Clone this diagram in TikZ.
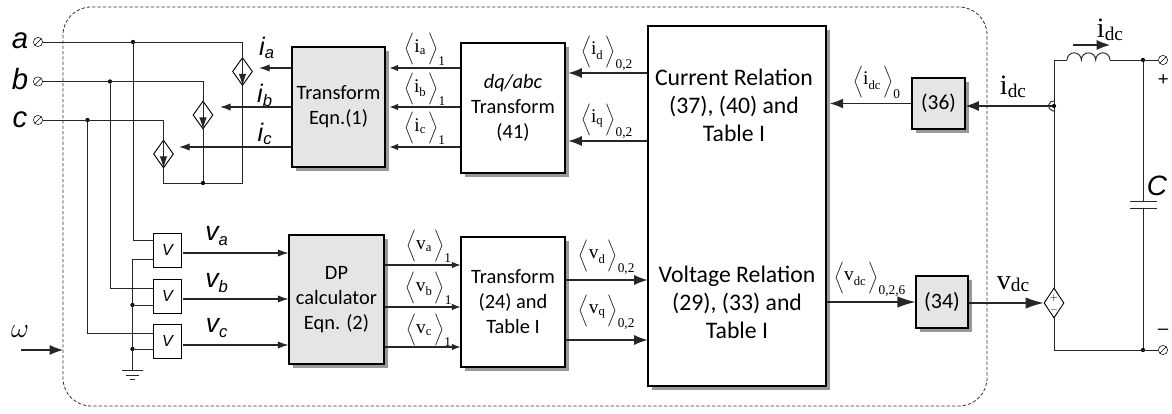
\documentclass[tikz,border=0pt]{standalone}
\usepackage{fontspec}
\setmainfont{Carlito}
\newfontfamily\serf{Liberation Serif}
\newfontfamily\arl{Liberation Sans}
\usetikzlibrary{arrows.meta,shapes.geometric,shapes.symbols,shadows}

\newcommand{\avgsig}[3]{$\bigg\langle\mbox{\serf\fontsize{14.5}{14.5}\selectfont #1}_{\mbox{\serf\fontsize{9.5}{10}\selectfont #2}}\,\bigg\rangle_{\mbox{\serf\fontsize{10}{10}\selectfont #3}}$}
\newcommand{\phsig}[3]{{\arl\itshape\fontsize{#3}{#3}\selectfont #1$_{\mbox{\arl\itshape\fontsize{12.5}{12.5}\selectfont #2}}$}}
\newcommand{\dcsig}[2]{{\serf\fontsize{21}{21}\selectfont #1\fontsize{14.5}{14.5}\selectfont\raisebox{-2pt}{#2}}}

\tikzset{
  wire/.style={black!85,line width=0.7pt},
  sig/.style={black!85,line width=0.8pt,-{Latex[length=6.5pt,width=5pt]}},
  sigmid/.style={black!85,line width=0.8pt,-{Latex[length=8pt,width=5.5pt]}},
  sigbig/.style={black!85,line width=0.8pt,-{Latex[length=10pt,width=7.5pt]}},
  bigsig/.style={black!85,line width=0.8pt,-{Latex[length=13.5pt,width=8.5pt]}},
  blockwhite/.style={draw,line width=0.8pt,fill=white,align=center,inner sep=0pt,font=\fontsize{15.3}{18.75}\selectfont,
    drop shadow={shadow xshift=3pt,shadow yshift=-3pt,fill=black!40,opacity=1}},
  blockgray/.style={blockwhite,fill=black!10},
  vbox/.style={draw,line width=0.7pt,fill=white,inner sep=0pt,minimum width=21pt,minimum height=25.5pt,font=\arl\itshape\fontsize{12}{12}\selectfont},
  srcdiamond/.style={diamond,draw,line width=0.7pt,fill=white,inner sep=0pt,aspect=0.7,minimum width=15pt,minimum height=21pt},
  junction/.style={circle,fill=black,inner sep=0pt,minimum size=3.2pt},
  terminal/.style={forbidden sign,draw,line width=0.4pt,inner sep=0pt,minimum size=7pt},
  plain/.style={inner sep=0pt}
}

\begin{document}
\begin{tikzpicture}[x=0.75pt,y=-0.75pt]
\useasboundingbox (0,0) rectangle (1172,414);

\draw[black!80,line width=0.6pt,dash pattern=on 2.5pt off 1.5pt,rounded corners=21pt] (63,7) rectangle (987,406);

% blocks
\node[blockgray,minimum width=69.75pt,minimum height=90pt] (tfone) at (338.5,107) {Transform\\Eqn.(1)};
\node[blockwhite,minimum width=78pt,minimum height=97.5pt] (dqabc) at (513,108) {\textit{dq/abc}\\Transform\\(41)};
\node[blockwhite,minimum width=133.5pt,minimum height=270pt] (relation) at (737,206) {};
\node[plain,align=center,font=\fontsize{17.8}{21}\selectfont] (curel) at (734,105) {Current Relation\\(37), (40) and\\Table I};
\node[plain,align=center,font=\fontsize{17.8}{21}\selectfont] (volrel) at (737,302) {Voltage Relation\\(29), (33) and\\Table I};
\node[blockgray,minimum width=39.75pt,minimum height=38.25pt,font=\fontsize{16}{16}\selectfont] (eqthirtysix) at (938.5,103.5) {(36)};
\node[blockgray,minimum width=39pt,minimum height=39pt,font=\fontsize{16.5}{16.5}\selectfont] (eqthirtyfour) at (942,302) {(34)};
\node[blockgray,minimum width=71.25pt,minimum height=96.75pt] (dpcalc) at (336.5,299.5) {DP\\calculator\\Eqn. (2)};
\node[blockwhite,minimum width=78pt,minimum height=97.5pt] (tftwo) at (513,302) {Transform\\(24) and\\Table I};

% phase terminals
\node[terminal] (terma) at (38,42) {};
\node[terminal] (termb) at (38,81.5) {};
\node[terminal] (termc) at (38,120) {};
\node[plain,font=\arl\itshape\fontsize{22}{22}\selectfont] (laba) at (20,40.5) {a};
\node[plain,font=\arl\itshape\fontsize{22}{22}\selectfont] (labb) at (20,79) {b};
\node[plain,font=\arl\itshape\fontsize{22}{22}\selectfont] (labc) at (20,120) {c};

% current sources
\node[srcdiamond] (srca) at (242.5,71.5) {};
\node[srcdiamond] (srcb) at (203,115) {};
\node[srcdiamond] (srcc) at (163.5,154) {};
\node[junction] (joina) at (133,42) {};
\node[junction] (joinb) at (110,81.5) {};
\node[junction] (joinc) at (87.5,120) {};
\node[junction] (joinsrc) at (203,183) {};
\draw[wire] (terma) -| (srca.north);
\draw[wire] (termb) -| (srcb.north);
\draw[wire] (termc) -| (srcc.north);
\draw[wire] (srcc.south) |- (joinsrc);
\draw[wire] (srcb.south) -- (joinsrc);
\draw[wire] (srca.south) |- (joinsrc);
\draw[wire,-{Latex[length=9pt,width=5.5pt]}] (srca.north) -- (srca.south);
\draw[wire,-{Latex[length=9pt,width=5.5pt]}] (srcb.north) -- (srcb.south);
\draw[wire,-{Latex[length=9pt,width=5.5pt]}] (srcc.north) -- (srcc.south);

\draw[sigmid] (tfone.west |- 0,68) -- (259,68);
\draw[sigmid] (tfone.west |- 0,107) -- (220,107);
\draw[sigmid] (tfone.west |- 0,147) -- (179,147);
\node[plain] (labia) at (267,48) {\phsig{i}{a}{19}};
\node[plain] (labib) at (265,95) {\phsig{i}{b}{19}};
\node[plain] (labic) at (265,134) {\phsig{i}{c}{19}};

% voltage sensors
\node[vbox] (sensa) at (167.5,250) {V};
\node[vbox] (sensb) at (167.5,296) {V};
\node[vbox] (sensc) at (167.5,341) {V};
\coordinate (gnd) at (132.5,370);
\node[junction] (gndb) at (132.5,305) {};
\node[junction] (gndc) at (132.5,349) {};
\draw[wire] (joina) |- (sensa.west |- 0,240);
\draw[wire] (joinb) |- (sensb.west |- 0,288);
\draw[wire] (joinc) |- (sensc.west |- 0,333);
\draw[wire] (sensa.west |- 0,259) -| (gnd);
\draw[wire] (gndb) -- (sensb.west |- gndb);
\draw[wire] (gndc) -- (sensc.west |- gndc);
\draw[wire] (122,370) -- (143,370);
\draw[wire] (126,375) -- (139,375);
\draw[wire] (130,379.5) -- (135,379.5);

\draw[sigmid] (183,253) -- (dpcalc.west |- 0,253);
\draw[sigmid] (183,299) -- (dpcalc.west |- 0,299);
\draw[sigmid] (183,345) -- (dpcalc.west |- 0,345);
\node[plain] (labva) at (217,236) {\phsig{v}{a}{20}};
\node[plain] (labvb) at (217,283) {\phsig{v}{b}{20}};
\node[plain] (labvc) at (217,328) {\phsig{v}{c}{20}};

% omega input
\coordinate (omegain) at (21,350);
\draw[sigbig] (omegain) -- (63,350);
\node[plain] (labomega) at (20,332) {\huge$\omega$};

% averaged signals
\draw[sig] (dqabc.west |- 0,68) -- ([xshift=3pt]tfone.east |- 0,68);
\draw[sig] (dqabc.west |- 0,107) -- ([xshift=3pt]tfone.east |- 0,107);
\draw[sig] (dqabc.west |- 0,147) -- ([xshift=3pt]tfone.east |- 0,147);
\node[plain] (labavia) at (425,49) {\avgsig{i}{a}{1}};
\node[plain] (labavib) at (425,89) {\avgsig{i}{b}{1}};
\node[plain] (labavic) at (425,128) {\avgsig{i}{c}{1}};

\draw[sigbig,shorten >=2.2pt] (relation.west |- 0,73) -- (dqabc.east |- 0,73);
\draw[sigbig,shorten >=2.2pt] (relation.west |- 0,141) -- (dqabc.east |- 0,141);
\node[plain] (labavid) at (607,53) {\avgsig{i}{d}{0,2}};
\node[plain] (labaviq) at (607,121) {\avgsig{i}{q}{0,2}};

\draw[sig] (dpcalc.east |- 0,265) -- (tftwo.west |- 0,265);
\draw[sig] (dpcalc.east |- 0,307) -- (tftwo.west |- 0,307);
\draw[sig] (dpcalc.east |- 0,347) -- (tftwo.west |- 0,347);
\node[plain] (labavva) at (429,246) {\avgsig{v}{a}{1}};
\node[plain] (labavvb) at (429,288) {\avgsig{v}{b}{1}};
\node[plain] (labavvc) at (429,330) {\avgsig{v}{c}{1}};

\draw[sigbig] (tftwo.east |- 0,280) -- (relation.west |- 0,280);
\draw[sigbig] (tftwo.east |- 0,340) -- (relation.west |- 0,340);
\node[plain] (labavvd) at (607,257) {\avgsig{v}{d}{0,2}};
\node[plain] (labavvq) at (607,312) {\avgsig{v}{q}{0,2}};

\draw[sigbig,shorten >=2.5pt] (eqthirtysix.west) -- (relation.east |- eqthirtysix.west);
\node[plain] (labavidc) at (877,82) {\avgsig{i}{dc}{0}};
\draw[bigsig] (relation.east |- 0,302) -- (eqthirtyfour.west |- 0,302);
\node[plain] (labavvdc) at (870,279) {\avgsig{v}{dc}{0,2,6}};

% dc side
\node[junction] (senseidc) at (1054,106) {};
\node[srcdiamond,minimum height=22.5pt] (srcdc) at (1054,303) {};
\node[plain,font=\fontsize{7}{7}\selectfont] (srcplus) at (1054,298) {$+$};
\node[plain,font=\fontsize{7}{7}\selectfont] (srcminus) at (1054,310) {$-$};
\coordinate (indin) at (1067,60);
\coordinate (indout) at (1110,60);
\coordinate (corner) at (1054,60);
\node[junction] (joinpos) at (1143,60) {};
\node[junction] (joinneg) at (1143,350) {};
\node[terminal] (termpos) at (1163,60) {};
\node[terminal] (termneg) at (1163,350) {};
\coordinate (capup) at (1143,201);
\coordinate (capdn) at (1143,208);
\draw[wire] (srcdc.north) -- (senseidc) -- (corner) -- (indin);
\draw[wire] (indin) arc[start angle=180,end angle=0,radius=5.375pt] arc[start angle=180,end angle=0,radius=5.375pt] arc[start angle=180,end angle=0,radius=5.375pt];
\draw[wire] (indout) -- (termpos);
\draw[wire] (joinpos) -- (capup);
\draw[wire] (capdn) -- (joinneg);
\draw[wire] (srcdc.south) |- (termneg);
\draw[wire] (1130,201) -- (1157,201);
\draw[wire] (1130,208) -- (1157,208);
\draw[wire] (1055,101) arc[start angle=75,end angle=285,radius=3.8pt];
\draw[sigbig] (senseidc) -- (eqthirtysix.east |- senseidc);
\draw[bigsig] (eqthirtyfour.east |- 0,303) -- (srcdc.west);
\draw[sigbig] (1073,45) -- (1110,45);
\node[plain] (labidc) at (1110,30) {\dcsig{i}{dc}};
\node[plain] (labidcin) at (1013,87) {\dcsig{i}{dc}};
\node[plain] (labvdc) at (1013,284) {\dcsig{v}{dc}};
\node[plain,font=\arl\itshape\fontsize{14}{14}\selectfont] (labplus) at (1163,80) {+};
\node[plain,font=\arl\fontsize{14}{14}\selectfont] (labminus) at (1163,332) {–};
\node[plain,font=\arl\itshape\fontsize{21}{21}\selectfont] (labcap) at (1157,186) {C};

\end{tikzpicture}
\end{document}
